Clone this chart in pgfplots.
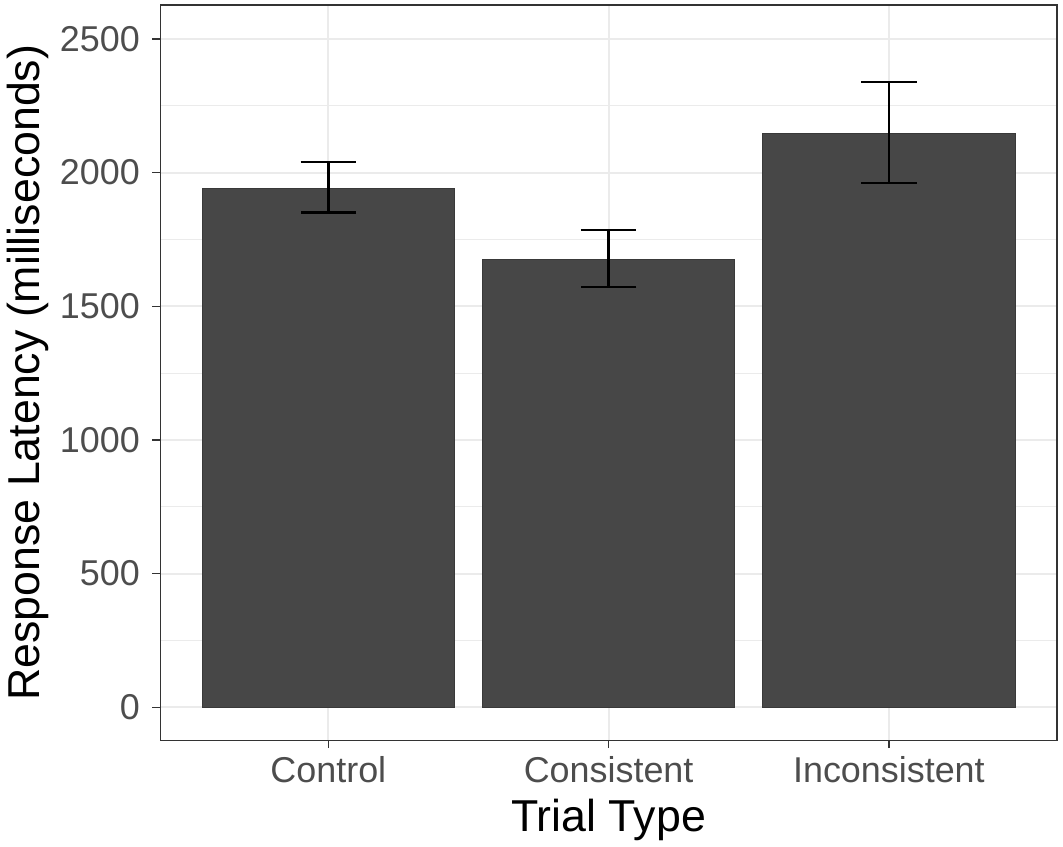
\documentclass[border=0pt]{standalone}
\usepackage{pgfplots}
\pgfplotsset{compat=1.18}
\usepackage{fontspec}
\setmainfont{Liberation Sans}
\definecolor{barfill}{HTML}{474747}
\definecolor{gridc}{HTML}{EBEBEB}
\definecolor{tickc}{HTML}{4D4D4D}
\definecolor{framec}{HTML}{333333}
\begin{document}
\begin{tikzpicture}
\begin{axis}[
  name=ax,
  scale only axis,
  width=449.5pt, height=368.5pt,
  xmin=-0.6, xmax=2.6,
  ymin=-123.1, ymax=2626.9,
  xtick={0,1,2},
  xticklabels={Control,Consistent,Inconsistent},
  ytick={0,500,1000,1500,2000,2500},
  minor ytick={250,750,1250,1750,2250},
  grid=both,
  major grid style={draw=gridc, line width=1pt},
  minor grid style={draw=gridc, line width=0.6pt},
  axis line style={draw=framec, line width=0.7pt},
  tick align=outside,
  major tick length=4pt,
  minor tick length=0pt,
  tick style={draw=framec, line width=0.7pt},
  xtick pos=bottom, ytick pos=left,
  /pgf/number format/assume math mode=true,
  /pgf/number format/1000 sep={},
  tick label style={font=\fontsize{18}{21}\selectfont, text=tickc},
  xticklabel style={anchor=base, yshift=-17pt},
  yticklabel style={anchor=east, inner sep=0pt, xshift=-6pt},
  xlabel={Trial Type},
  ylabel={Response Latency (milliseconds)},
  label style={font=\fontsize{22.4}{26}\selectfont, text=black},
  xlabel style={at={(axis description cs:0.5,-0.1235)}, anchor=base},
  ylabel style={at={(axis description cs:-0.148,0.5)}, anchor=center, rotate=0},
  ybar, bar width=0.9,
]
\addplot[
  fill=barfill, draw=barfill!80!black, line width=0.3pt,
  error bars/.cd, y dir=both, y explicit,
  error bar style={line width=1.15pt, black},
  error mark options={rotate=90, mark size=13.9pt, line width=1.15pt, black},
] coordinates {
  (0,1940) -= (0,89) += (0,100)
  (1,1676) -= (0,104) += (0,109)
  (2,2148) -= (0,186) += (0,192)
};
\end{axis}
\path ([shift={(-79pt,-53pt)}]ax.south west) rectangle ([shift={(3pt,2.5pt)}]ax.north east);
\end{tikzpicture}
\end{document}
